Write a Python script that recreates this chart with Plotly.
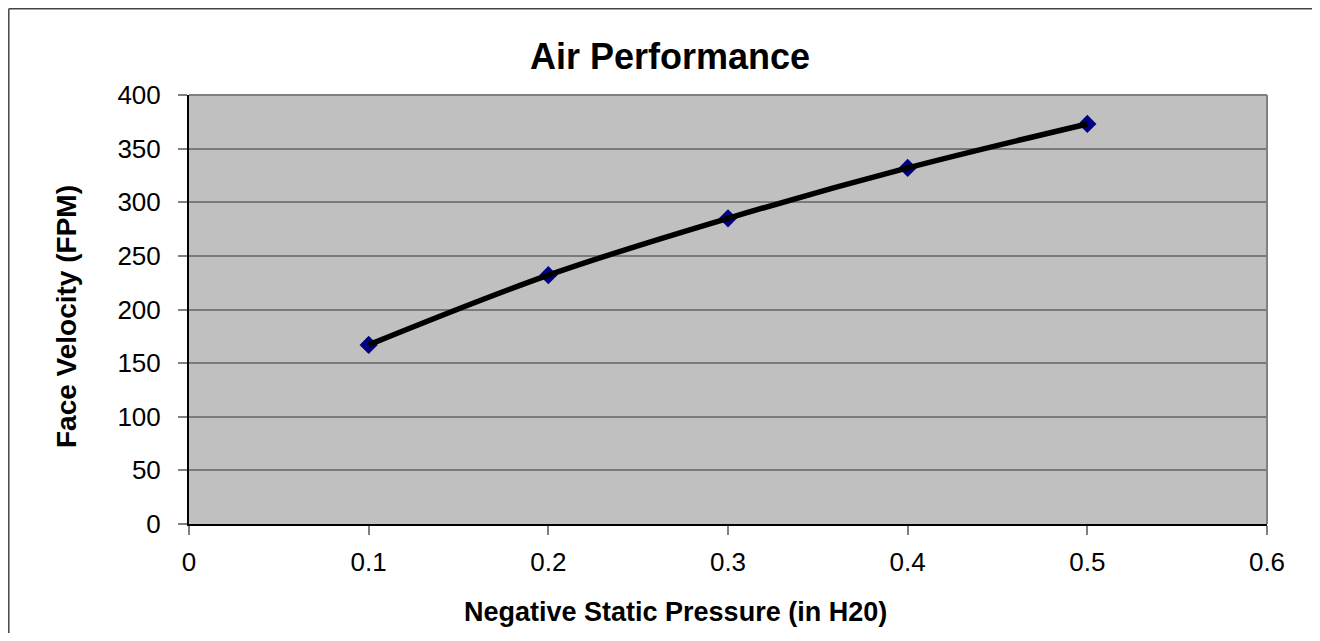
import plotly.graph_objects as go

pressure = [0.1, 0.2, 0.3, 0.4, 0.5]
velocity = [167, 232, 285, 332, 373]
x_ticks = [0, 0.1, 0.2, 0.3, 0.4, 0.5, 0.6]
y_ticks = [0, 50, 100, 150, 200, 250, 300, 350, 400]

FONT = "Liberation Sans, Arial, sans-serif"

fig = go.Figure()
fig.add_trace(go.Scatter(
    x=pressure, y=velocity, mode="markers",
    marker=dict(symbol="diamond", size=14, color="#000080"),
    showlegend=False, hoverinfo="skip"))
fig.add_trace(go.Scatter(
    x=pressure, y=velocity, mode="lines",
    line=dict(color="black", width=5.5, shape="spline", smoothing=1.0),
    showlegend=False))

OFF = 8  # page body offset
W, H = 1320 - 2 * OFF, 641 - 2 * OFF
L, R, T, B = 189 - OFF, 1267 - OFF, 95 - OFF, 524 - OFF
pw, ph = R - L, B - T

def px(xp):
    return (xp - OFF - L) / pw

def py(yp):
    return (B - (yp - OFF)) / ph

frame_line = dict(color="#444444", width=1.5)

fig.update_layout(
    width=W, height=H,
    margin=dict(l=L, r=W - R, t=T, b=H - B, pad=0),
    paper_bgcolor="white",
    plot_bgcolor="#C0C0C0",
    font=dict(family=FONT, color="black"),
    xaxis=dict(range=[0, 0.6], tickvals=x_ticks, ticks="outside", ticklen=9,
               tickcolor="#808080", tickwidth=1.5, showgrid=False, zeroline=False,
               showline=True, linecolor="black", linewidth=2,
               tickfont=dict(size=26, family=FONT), ticklabelstandoff=5),
    yaxis=dict(range=[0, 400], tickvals=y_ticks, ticks="outside", ticklen=9,
               tickcolor="#808080", tickwidth=1.5, showgrid=True, gridcolor="#7a7a7a",
               gridwidth=1.5, zeroline=False,
               showline=True, linecolor="black", linewidth=2,
               tickfont=dict(size=26, family=FONT), ticklabelstandoff=12),
    shapes=[
        dict(type="line", xref="paper", yref="paper", x0=0, x1=1, y0=1, y1=1,
             line=dict(color="#808080", width=2), layer="above"),
        dict(type="line", xref="paper", yref="paper", x0=1, x1=1, y0=0, y1=1,
             line=dict(color="#808080", width=2), layer="above"),
        dict(type="line", xref="paper", yref="paper",
             x0=px(OFF + 0.8), x1=px(1320), y0=py(OFF + 0.8), y1=py(OFF + 0.8),
             line=frame_line),
        dict(type="line", xref="paper", yref="paper",
             x0=px(OFF + 0.8), x1=px(OFF + 0.8), y0=py(OFF + 0.8), y1=py(641),
             line=frame_line),
    ],
    annotations=[
        dict(text="<b>Air Performance</b>", xref="paper", yref="paper",
             x=px(670), y=py(57), showarrow=False, xanchor="center", yanchor="middle",
             font=dict(size=36, family=FONT)),
        dict(text="<b>Negative Static Pressure (in H20)</b>", xref="paper", yref="paper",
             x=px(675), y=py(612), showarrow=False, xanchor="center", yanchor="middle",
             font=dict(size=27, family=FONT)),
        dict(text="<b>Face Velocity (FPM)</b>", xref="paper", yref="paper",
             x=px(66), y=py(317), showarrow=False, xanchor="center", yanchor="middle",
             textangle=-90, font=dict(size=28, family=FONT)),
    ],
)

fig.write_html("out.html")
